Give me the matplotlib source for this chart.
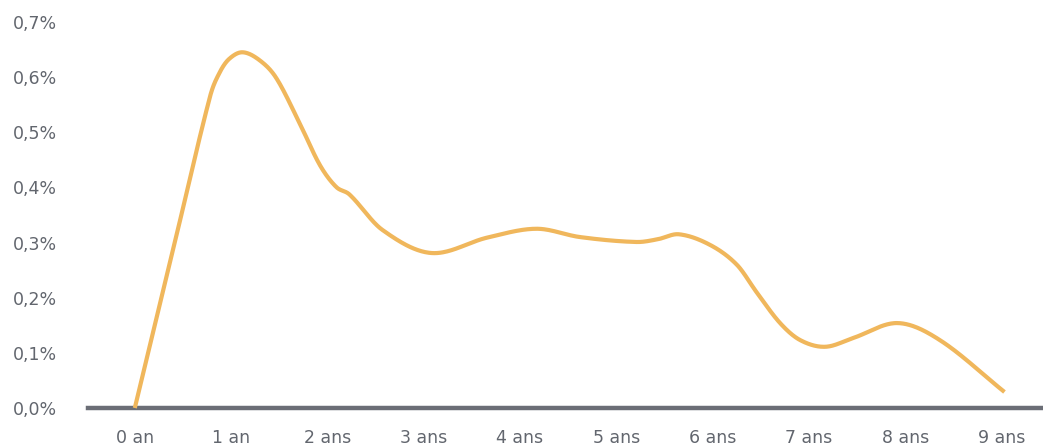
import numpy as np
import matplotlib.pyplot as plt

# étiquettes de l'axe des abscisses
labels = ["0 an", "1 an", "2 ans", "3 ans", "4 ans", "5 ans", "6 ans", "7 ans", "8 ans", "9 ans"]

# points (ancienneté en années, taux en %)
anciennete = [0.0, 0.4, 0.78, 0.88, 0.98, 1.12, 1.3, 1.47, 1.71, 1.92, 2.09, 2.23, 2.57, 3.08,
              3.66, 4.17, 4.62, 5.21, 5.43, 5.65, 5.97, 6.25, 6.46, 6.70, 6.91, 7.17,
              7.46, 7.92, 8.36, 9.03]
taux = [0.0, 0.289, 0.564, 0.608, 0.633, 0.645, 0.630, 0.598, 0.517, 0.441, 0.401, 0.387, 0.323,
        0.281, 0.309, 0.325, 0.310, 0.301, 0.306, 0.315, 0.296, 0.260, 0.209, 0.154, 0.123,
        0.111, 0.127, 0.154, 0.123, 0.029]

yticks = [0.0, 0.1, 0.2, 0.3, 0.4, 0.5, 0.6, 0.7]


def lisse(x, y, n=40):
    # spline de Hermite, pentes par différences centrées
    x = np.asarray(x, float)
    y = np.asarray(y, float)
    m = np.zeros_like(y)
    m[1:-1] = (y[2:] - y[:-2]) / (x[2:] - x[:-2])
    m[0] = (y[1] - y[0]) / (x[1] - x[0])
    m[-1] = (y[-1] - y[-2]) / (x[-1] - x[-2])
    xs, ys = [], []
    for i in range(len(x) - 1):
        h = x[i + 1] - x[i]
        t = np.linspace(0, 1, n)
        h00 = 2 * t ** 3 - 3 * t ** 2 + 1
        h10 = t ** 3 - 2 * t ** 2 + t
        h01 = -2 * t ** 3 + 3 * t ** 2
        h11 = t ** 3 - t ** 2
        xs.append(x[i] + t * h)
        ys.append(h00 * y[i] + h10 * h * m[i] + h01 * y[i + 1] + h11 * h * m[i + 1])
    return np.concatenate(xs), np.concatenate(ys)


plt.rcParams['font.family'] = ['DejaVu Sans']
gris = '#62666e'

fig = plt.figure(figsize=(10.43, 4.48), dpi=100)
ax = fig.add_axes([0.084, 0.0893, 0.916, 0.8617])

xs, ys = lisse(anciennete, taux)
ax.plot(xs, ys, color='#f0b75c', lw=3, solid_capstyle='butt', solid_joinstyle='round',
        zorder=3, clip_on=False)
ax.axhline(0, color='#6b6e76', lw=3.2, zorder=2, clip_on=False)

ax.set_xlim(-0.49, 9.43)
ax.set_ylim(0, 0.7)
ax.set_xticks(range(len(labels)))
ax.set_xticklabels(labels)
ax.set_yticks(yticks)
ax.set_yticklabels([f"{v:.1f}%".replace('.', ',') for v in yticks])
ax.tick_params(axis='both', length=0, labelsize=12.5, colors=gris)
ax.tick_params(axis='x', pad=15)
ax.tick_params(axis='y', pad=22)
for s in ax.spines.values():
    s.set_visible(False)

fig.savefig('out.png', dpi=100)
